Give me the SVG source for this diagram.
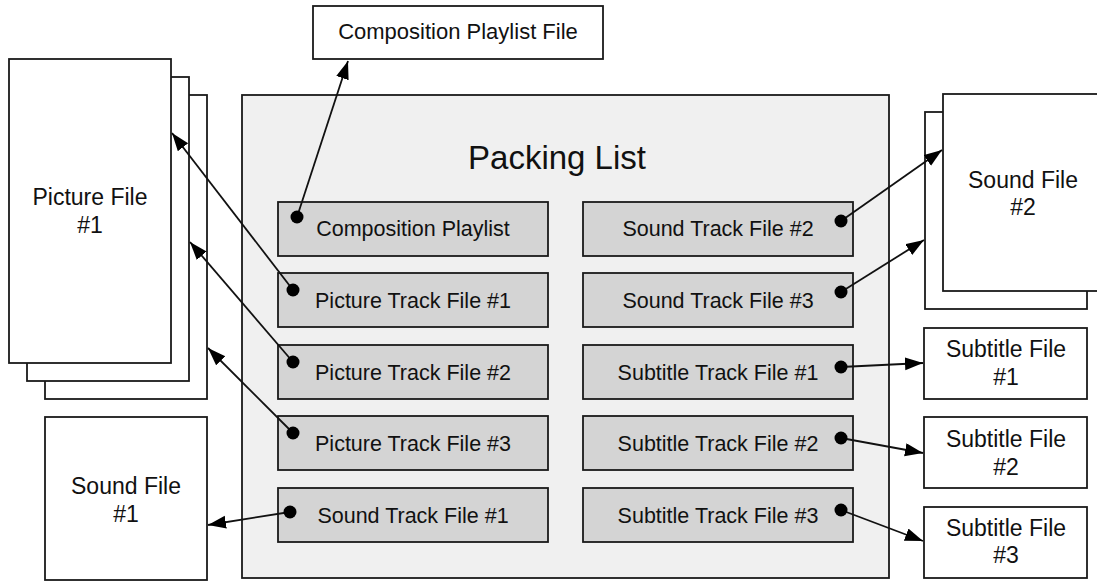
<svg xmlns="http://www.w3.org/2000/svg" width="1097" height="583" viewBox="0 0 1097 583">
<style>
.file{fill:#ffffff;stroke:#1a1a1a;stroke-width:1.8}
.pkl{fill:#f0f0f0;stroke:#1a1a1a;stroke-width:1.8}
.trk{fill:#d4d4d4;stroke:#1a1a1a;stroke-width:1.8}
.lbl{font-family:"Liberation Sans",Arial,sans-serif;font-size:21.5px;fill:#111;text-anchor:middle}
.side{font-family:"Liberation Sans",Arial,sans-serif;font-size:23px;fill:#111;text-anchor:middle}
.title{font-family:"Liberation Sans",Arial,sans-serif;font-size:33px;fill:#111;text-anchor:middle}
.conn{stroke:#111;stroke-width:1.8;fill:none;marker-end:url(#ah)}
.dot{fill:#000}
</style>
<defs>
<marker id="ah" markerUnits="userSpaceOnUse" markerWidth="20" markerHeight="16" refX="18" refY="6.5" orient="auto">
<path d="M0,0 L18,6.5 L0,13 Z" fill="#000"/>
</marker>
</defs>
<rect width="1097" height="583" fill="#ffffff"/>

<g id="picture-file-1">
<rect class="file" x="45" y="95" width="162" height="304"/>
<rect class="file" x="27" y="77" width="162" height="304"/>
<rect class="file" x="9" y="59" width="162" height="304"/>
<text class="side" x="90" y="205">Picture File</text>
<text class="side" x="90" y="233">#1</text>
</g>

<g id="sound-file-1">
<rect class="file" x="45" y="417" width="162" height="163"/>
<text class="side" x="126" y="494">Sound File</text>
<text class="side" x="126" y="522">#1</text>
</g>

<g id="composition-playlist-file">
<rect class="file" x="313" y="6" width="290" height="53"/>
<text class="side" x="458" y="39" style="font-size:22px">Composition Playlist File</text>
</g>

<g id="sound-file-2">
<rect class="file" x="925" y="112" width="162" height="197"/>
<rect class="file" x="943" y="94" width="170" height="197"/>
<text class="side" x="1023" y="188">Sound File</text>
<text class="side" x="1023" y="215">#2</text>
</g>

<g id="subtitle-file-1">
<rect class="file" x="924" y="328" width="163" height="71"/>
<text class="side" x="1006" y="357">Subtitle File</text>
<text class="side" x="1006" y="385">#1</text>
</g>
<g id="subtitle-file-2">
<rect class="file" x="924" y="417" width="163" height="71"/>
<text class="side" x="1006" y="447">Subtitle File</text>
<text class="side" x="1006" y="475">#2</text>
</g>
<g id="subtitle-file-3">
<rect class="file" x="924" y="507" width="163" height="71"/>
<text class="side" x="1006" y="536">Subtitle File</text>
<text class="side" x="1006" y="563">#3</text>
</g>

<g id="packing-list">
<rect class="pkl" x="242" y="95" width="647" height="483"/>
<text class="title" x="557" y="169">Packing List</text>
</g>

<g id="composition-playlist">
<rect class="trk" x="278" y="202" width="270" height="54"/>
<text class="lbl" x="413" y="236">Composition Playlist</text>
</g>
<g id="picture-track-file-1">
<rect class="trk" x="278" y="273" width="270" height="54"/>
<text class="lbl" x="413" y="308">Picture Track File #1</text>
</g>
<g id="picture-track-file-2">
<rect class="trk" x="278" y="345" width="270" height="54"/>
<text class="lbl" x="413" y="380">Picture Track File #2</text>
</g>
<g id="picture-track-file-3">
<rect class="trk" x="278" y="416" width="270" height="54"/>
<text class="lbl" x="413" y="451">Picture Track File #3</text>
</g>
<g id="sound-track-file-1">
<rect class="trk" x="278" y="488" width="270" height="54"/>
<text class="lbl" x="413" y="523">Sound Track File #1</text>
</g>

<g id="sound-track-file-2">
<rect class="trk" x="583" y="202" width="270" height="54"/>
<text class="lbl" x="718" y="236">Sound Track File #2</text>
</g>
<g id="sound-track-file-3">
<rect class="trk" x="583" y="273" width="270" height="54"/>
<text class="lbl" x="718" y="308">Sound Track File #3</text>
</g>
<g id="subtitle-track-file-1">
<rect class="trk" x="583" y="345" width="270" height="54"/>
<text class="lbl" x="718" y="380">Subtitle Track File #1</text>
</g>
<g id="subtitle-track-file-2">
<rect class="trk" x="583" y="416" width="270" height="54"/>
<text class="lbl" x="718" y="451">Subtitle Track File #2</text>
</g>
<g id="subtitle-track-file-3">
<rect class="trk" x="583" y="488" width="270" height="54"/>
<text class="lbl" x="718" y="523">Subtitle Track File #3</text>
</g>

<g id="connectors">
<line class="conn" x1="297" y1="217" x2="348" y2="61"/>
<line class="conn" x1="293" y1="290" x2="172" y2="133"/>
<line class="conn" x1="293" y1="362" x2="190" y2="242"/>
<line class="conn" x1="293" y1="433" x2="208" y2="348"/>
<line class="conn" x1="290" y1="512" x2="208" y2="525"/>
<line class="conn" x1="841" y1="221" x2="942" y2="150"/>
<line class="conn" x1="841" y1="292" x2="924" y2="240"/>
<line class="conn" x1="841" y1="367" x2="923" y2="363"/>
<line class="conn" x1="841" y1="438" x2="923" y2="453"/>
<line class="conn" x1="841" y1="510" x2="923" y2="541"/>
<circle class="dot" cx="297" cy="217" r="6.5"/>
<circle class="dot" cx="293" cy="290" r="6.5"/>
<circle class="dot" cx="293" cy="362" r="6.5"/>
<circle class="dot" cx="293" cy="433" r="6.5"/>
<circle class="dot" cx="290" cy="512" r="6.5"/>
<circle class="dot" cx="841" cy="221" r="6.5"/>
<circle class="dot" cx="841" cy="292" r="6.5"/>
<circle class="dot" cx="841" cy="367" r="6.5"/>
<circle class="dot" cx="841" cy="438" r="6.5"/>
<circle class="dot" cx="841" cy="510" r="6.5"/>
</g>
</svg>
